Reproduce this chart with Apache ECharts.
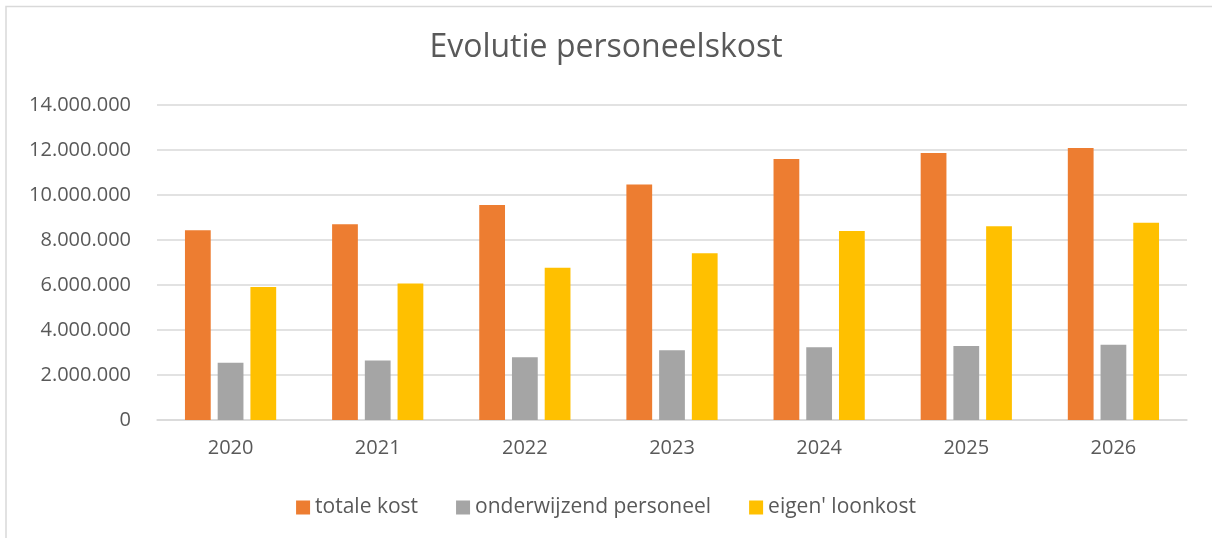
<!DOCTYPE html>
<html><head><meta charset="utf-8">
<script src="https://cdn.jsdelivr.net/npm/echarts@6/dist/echarts.min.js"></script>
<style>html,body{margin:0;padding:0;background:#fff}#c{width:1212px;height:538px}</style>
</head><body><div id="c"></div>
<script>
var categories = ['2020','2021','2022','2023','2024','2025','2026'];
var totaleKost = [8430000, 8700000, 9560000, 10470000, 11600000, 11870000, 12090000];
var onderwijzendPersoneel = [2550000, 2650000, 2790000, 3100000, 3230000, 3290000, 3350000];
var eigenLoonkost = [5910000, 6070000, 6770000, 7410000, 8400000, 8610000, 8770000];
var seriesNames = ['totale kost', 'onderwijzend personeel', "eigen' loonkost"];
var colors = ['#ED7D31', '#A5A5A5', '#FFC000'];
var FONT = '"Open Sans", "Noto Sans", sans-serif';
function fmt(v){ return String(Math.round(v)).replace(/\B(?=(\d{3})+(?!\d))/g, '.'); }
var chart = echarts.init(document.getElementById('c'));
var data = [totaleKost, onderwijzendPersoneel, eigenLoonkost];
chart.setOption({
  animation: false,
  backgroundColor: '#fff',
  color: colors,
  title: { text: 'Evolutie personeelskost', left: 'center', top: 27,
    textStyle: { fontFamily: FONT, fontSize: 32, fontWeight: 'normal', color: '#595959' } },
  graphic: [{ type: 'rect', shape: { x: 6, y: 6.5, width: 1230, height: 560 },
    style: { fill: 'none', stroke: '#d9d9d9', lineWidth: 1.5 }, silent: true }],
  legend: { top: 492, left: 'center', itemWidth: 14, itemHeight: 14, itemGap: 38,
    icon: 'rect', textStyle: { fontFamily: FONT, fontSize: 21, color: '#595959' },
    data: seriesNames },
  grid: { left: 157, right: 25, top: 105, bottom: 118 },
  xAxis: { type: 'category', data: categories,
    axisLine: { lineStyle: { color: '#d9d9d9', width: 1.5 } }, axisTick: { show: false },
    axisLabel: { fontFamily: FONT, fontSize: 20, color: '#595959', margin: 18 } },
  yAxis: { type: 'value', min: 0, max: 14000000, interval: 2000000,
    axisLine: { show: false }, axisTick: { show: false },
    splitLine: { lineStyle: { color: '#d9d9d9', width: 1.5 } },
    axisLabel: { fontFamily: FONT, fontSize: 20, color: '#595959', margin: 26, formatter: fmt } },
  series: seriesNames.map(function(n, i){
    return { name: n, type: 'bar', data: data[i], barGap: '27%', barCategoryGap: '38%',
      itemStyle: { color: colors[i] } };
  })
});
</script></body></html>
